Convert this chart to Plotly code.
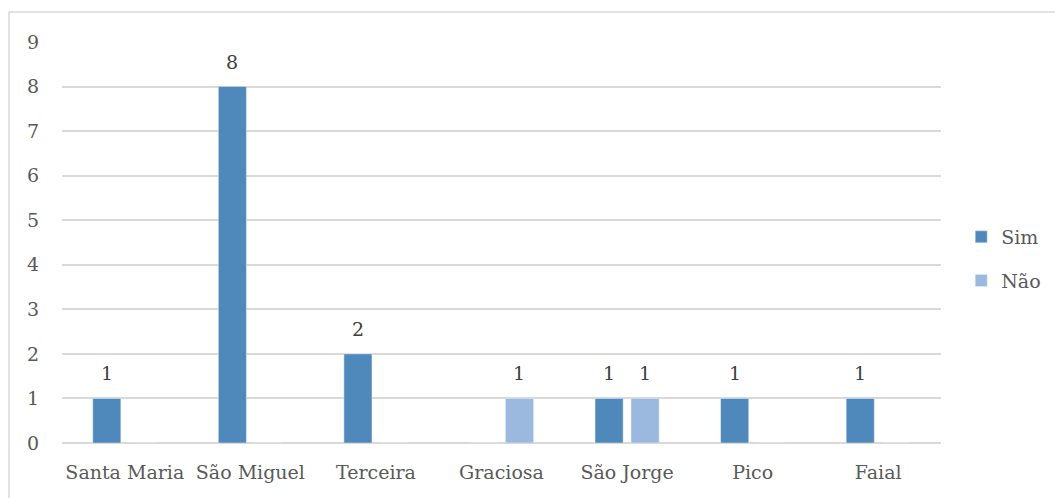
import plotly.graph_objects as go

ilhas = ["Santa Maria", "São Miguel", "Terceira", "Graciosa", "São Jorge", "Pico", "Faial"]
sim = [1, 8, 2, 0, 1, 1, 1]
nao = [0, 0, 0, 1, 1, 0, 0]

FONT = "DejaVu Serif"
GREY = "#595959"
SIZE = 19

W, H = 1055, 498
L, R, T, B = 62, 114, 42, 55
pw, ph = W - L - R, H - T - B

BARGAP, GROUPGAP = 0.427, 0.22

fig = go.Figure()
fig.add_trace(go.Bar(name="Sim", x=ilhas, y=sim, marker_color="#4F88BB",
                     legendgroup="sim"))
fig.add_trace(go.Bar(name="Não", x=ilhas, y=nao, marker_color="#9BB9DF",
                     legendgroup="nao"))

# value labels above each non-zero bar, shifted to its slot in the group
cat_px = pw / len(ilhas)
slot_px = (1 - BARGAP) * cat_px / 2
for vals, shift in ((sim, -slot_px / 2), (nao, slot_px / 2)):
    for cat, v in zip(ilhas, vals):
        if v:
            fig.add_annotation(x=cat, y=v, text=str(v), showarrow=False,
                               xshift=shift, yanchor="bottom", yshift=12,
                               font=dict(family=FONT, size=SIZE, color="#404040"))

# outer chart border
fig.add_shape(type="rect", xref="paper", yref="paper",
              x0=(9 - L) / pw, x1=(W + 5 - L) / pw,
              y0=-(H + 5 - T - ph) / ph, y1=1 + (T - 12) / ph,
              line=dict(color="#d9d9d9", width=1.5), layer="below")

fig.update_layout(
    width=W, height=H,
    margin=dict(l=L, r=R, t=T, b=B, autoexpand=False),
    paper_bgcolor="white", plot_bgcolor="white",
    barmode="group", bargap=BARGAP, bargroupgap=GROUPGAP,
    font=dict(family=FONT, size=SIZE, color=GREY),
    showlegend=True,
    legend=dict(x=1.023, y=0.459, xanchor="left", yanchor="middle",
                font=dict(family=FONT, size=SIZE, color=GREY),
                itemwidth=30, tracegroupgap=16),
)
fig.update_xaxes(showgrid=False, showline=False, ticks="",
                 tickfont=dict(family=FONT, size=SIZE, color=GREY), ticklabelstandoff=16)
fig.update_yaxes(range=[0, 9], dtick=1, showgrid=True, gridcolor="#d9d9d9", gridwidth=1.5,
                 zeroline=True, zerolinecolor="#d9d9d9", zerolinewidth=1.5,
                 showline=False, ticks="", ticklabelstandoff=22,
                 tickfont=dict(family=FONT, size=SIZE, color=GREY))

fig.write_html("out.html")
